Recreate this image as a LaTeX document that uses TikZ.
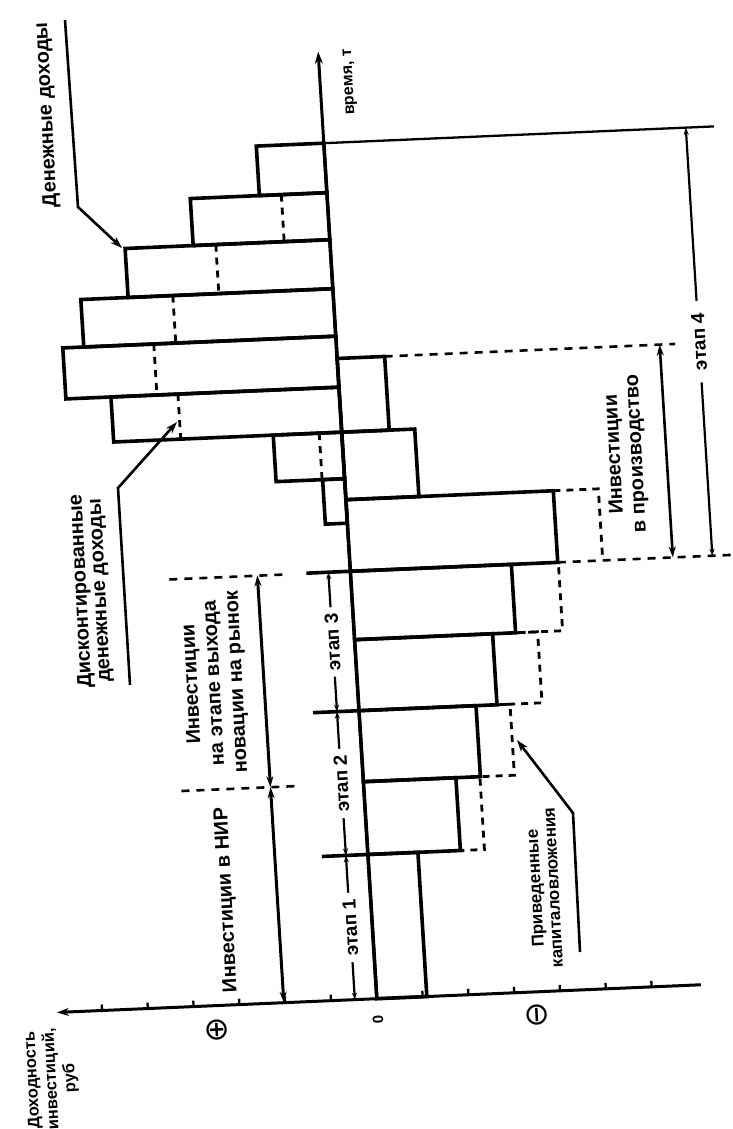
\documentclass[tikz,border=0pt]{standalone}
\usepackage{fontspec}
\setmainfont{Liberation Sans}
\newfontfamily\symfont{DejaVu Sans}
\usetikzlibrary{arrows.meta}
\begin{document}
\begin{tikzpicture}[x=1pt,y=-1pt,
  bar/.style={line width=3.6pt, line join=miter},
  axisl/.style={line width=3pt},
  dsh/.style={line width=2.8pt, dash pattern=on 7pt off 6pt},
  extl/.style={line width=2.6pt, dash pattern=on 8pt off 7pt},
  thinl/.style={line width=2.3pt},
  dimline/.style={line width=3pt, {Stealth[length=11pt,width=7pt]}-{Stealth[length=11pt,width=7pt]}},
  stageline/.style={line width=2.2pt, {Stealth[length=7pt,width=5pt]}-{Stealth[length=7pt,width=5pt]}},
  lead/.style={line width=2.6pt, -{Stealth[length=12pt,width=8pt]}},
  lblbig/.style={font=\bfseries\fontsize{20}{22}\selectfont, rotate=93, align=center, inner sep=0pt},
  lblsmall/.style={font=\bfseries\fontsize{17}{18}\selectfont, rotate=93, align=center, inner sep=0pt},
  stagelbl/.style={font=\bfseries\fontsize{19}{20}\selectfont, rotate=93, fill=white, inner xsep=6pt, inner ysep=1pt},
  signlbl/.style={font=\symfont\fontsize{31}{31}\selectfont, rotate=93, inner sep=0pt},
]
\fill[white] (0,0) rectangle (733,1129);
\useasboundingbox (0,0) rectangle (733,1129);

% ---------- tilted model frame ----------
\begin{scope}[x={(1pt,0.043pt)}, y={(0.062pt,-1pt)}, shift={(-35.03pt,-15.74pt)}]
  % positive bars (money income): left X / top Y / bottom Y
  \foreach \l/\t/\b in {282.5/142.5/192, 213.4/192/239, 145.3/239/288, 98/288/335.5,
                        77/335.5/386.5, 122/386.5/431.5, 281.5/431.5/478, 328/478/522.5}
    \draw[bar] (\l,\t) -- (350,\t) -- (350,\b) -- (\l,\b) -- cycle;
  % discounted incomes
  \foreach \x/\t/\b in {304.4/192/239, 236/239/288, 190/288/335.5, 168/335.5/386.5,
                        189/386.5/431.5, 327.5/431.5/478}
    \draw[dsh] (\x,\t) -- (\x,\b);
  % negative bars (investments): right X / top Y / bottom Y
  \foreach \r/\t/\b in {397.5/357.8/431.5, 423/431.5/499, 557.4/499/570.6, 511/570.6/639,
                        488/639/710, 467/710/781, 442.5/781/853.8, 400/853.8/998}
    \draw[bar] (350,\t) -- (\r,\t) -- (\r,\b) -- (350,\b) -- cycle;
  % compounded investments
  \draw[dsh] (557.4,499) -- (602.4,499) -- (602.4,570.6);
  \foreach \s/\d/\t/\b in {511/558/570.6/639, 488/533/639/710, 467/501/710/781, 442.5/466.5/781/853.8}
    \draw[dsh] (\s,\t) -- (\d,\t) -- (\d,\b) -- (\s,\b);
  % extension lines
  \draw[thinl] (350,142.5) -- (740,142.5);
  \draw[extl] (397.5,357.8) -- (688,357.8);
  \draw[extl] (557.4,570.6) -- (734,570.6);
  \draw[extl] (169,571) -- (284,571);
  \draw[extl] (168,782.5) -- (283,782.5);
  \draw[bar] (306,570.6) -- (350,570.6);
  \draw[bar] (304,710) -- (350,710);
  \draw[bar] (304,853.8) -- (350,853.8);
  % axes
  \draw[axisl,-{Stealth[length=12pt,width=8pt]}] (674,998) -- (30,998);
  \draw[axisl,-{Stealth[length=12pt,width=8pt]}] (350,998) -- (350,51);
  \foreach \k in {-6,-5,-4,-3,-2,-1,1,2,3,4,5,6}
    \draw[thinl] ({350+45.8*\k},998) -- ({350+45.8*\k},992);
  % dimension lines
  \draw[dimline] (257,998) -- (257,782.5);
  \draw[dimline] (257,782.5) -- (257,570.6);
  \draw[stageline] (328,998) -- node[stagelbl]{этап 1} (328,853.8);
  \draw[stageline] (328,853.8) -- node[stagelbl]{этап 2} (328,710);
  \draw[stageline] (328,710) -- node[stagelbl]{этап 3} (328,570.6);
  \draw[stageline] (712,570.6) -- node[stagelbl, inner xsep=12pt]{этап 4} (712,142.5);
  \draw[dimline, line width=2.6pt] (672.5,570.6) -- (672.5,357.8);
\end{scope}

% ---------- labels ----------
\node[lblbig] (dd) at (47,115) {Денежные доходы};
\node[lblbig, font=\bfseries\fontsize{20}{19}\selectfont] (ddd) at (91,591) {Дисконтированные\\денежные доходы};
\node[lblbig] (inr) at (227,900) {Инвестиции в НИР};
\node[lblbig, font=\bfseries\fontsize{20}{22.5}\selectfont] (ivr) at (215,683) {Инвестиции\\на этапе выхода\\новации на рынок};
\node[lblsmall] (pk) at (544,888) {Приведенные\\капиталовложения};
\node[lblbig] (ip) at (626,454) {Инвестиции\\в производство};
\node[font=\bfseries\fontsize{16}{16}\selectfont, rotate=93] (tm) at (350,82) {время, т};
\node[font=\bfseries\fontsize{16.5}{19}\selectfont, rotate=93, align=center, inner sep=0pt] (yl) at (52,1079) {Доходность\\инвестиций,\\руб};
\node[signlbl] (plus) at (217,1030) {⊕};
\node[font=\bfseries\fontsize{15}{15}\selectfont, rotate=93, inner sep=0pt] (zero) at (378,1020) {0};
\node[signlbl] (minus) at (537,1015) {⊖};

% ---------- leaders ----------
\coordinate (a1) at (65,20);  \coordinate (a2) at (78,207);  \coordinate (a3) at (122,248);
\coordinate (b1) at (130,685); \coordinate (b2) at (118,488); \coordinate (b3) at (177,422);
\coordinate (c1) at (580,952); \coordinate (c2) at (573,813); \coordinate (c3) at (517,740);
\draw[lead] (a1) -- (a2) -- (a3);
\draw[lead] (b1) -- (b2) -- (b3);
\draw[lead] (c1) -- (c2) -- (c3);
\end{tikzpicture}
\end{document}
